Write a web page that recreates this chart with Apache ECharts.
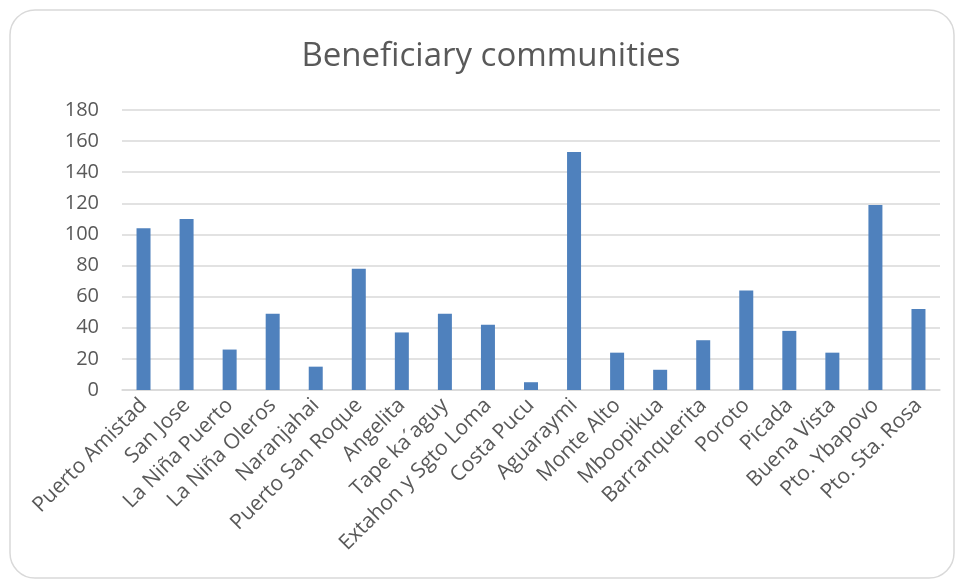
<!DOCTYPE html>
<html>
<head>
<meta charset="utf-8">
<script src="https://cdn.jsdelivr.net/npm/echarts@6/dist/echarts.min.js"></script>
<style>
html,body{margin:0;padding:0;background:#fff;}
#c{width:956px;height:581px;}
</style>
</head>
<body>
<div id="c"></div>
<script>
const categories = ["Puerto Amistad","San Jose","La Niña Puerto","La Niña Oleros","Naranjahai","Puerto San Roque","Angelita","Tape ka´aguy","Extahon y Sgto Loma","Costa Pucu","Aguaraymi","Monte Alto","Mboopikua","Barranquerita","Poroto","Picada","Buena Vista","Pto. Ybapovo","Pto. Sta. Rosa"];
const values = [104,110,26,49,15,78,37,49,42,5,153,24,13,32,64,38,24,119,52];
const titleText = "Beneficiary communities";

const chart = echarts.init(document.getElementById('c'));
chart.setOption({
  animation:false,
  graphic:[{type:'rect',shape:{x:10,y:10,width:944,height:568,r:25},style:{fill:'none',stroke:'#d9d9d9',lineWidth:1.5},z:-1}],
  title:{text:titleText,left:486,top:35,textAlign:'center',textStyle:{fontFamily:'Open Sans',fontWeight:'normal',fontSize:33,color:'#595959'}},
  grid:{left:122,right:16,top:110,bottom:191,containLabel:false},
  xAxis:{type:'category',data:categories,
    axisLine:{lineStyle:{color:'#d9d9d9',width:1.5}},axisTick:{show:false},
    axisLabel:{rotate:45,interval:0,fontFamily:'Open Sans',fontSize:21,color:'#595959',margin:12}},
  yAxis:{type:'value',min:0,max:180,interval:20,
    axisLine:{show:false},axisTick:{show:false},
    splitLine:{lineStyle:{color:'#d9d9d9',width:1.5}},
    axisLabel:{fontFamily:'Open Sans',fontSize:20,color:'#595959',margin:23}},
  series:[{type:'bar',data:values,barWidth:14,itemStyle:{color:'#4f81bd'}}]
});
</script>
</body>
</html>
